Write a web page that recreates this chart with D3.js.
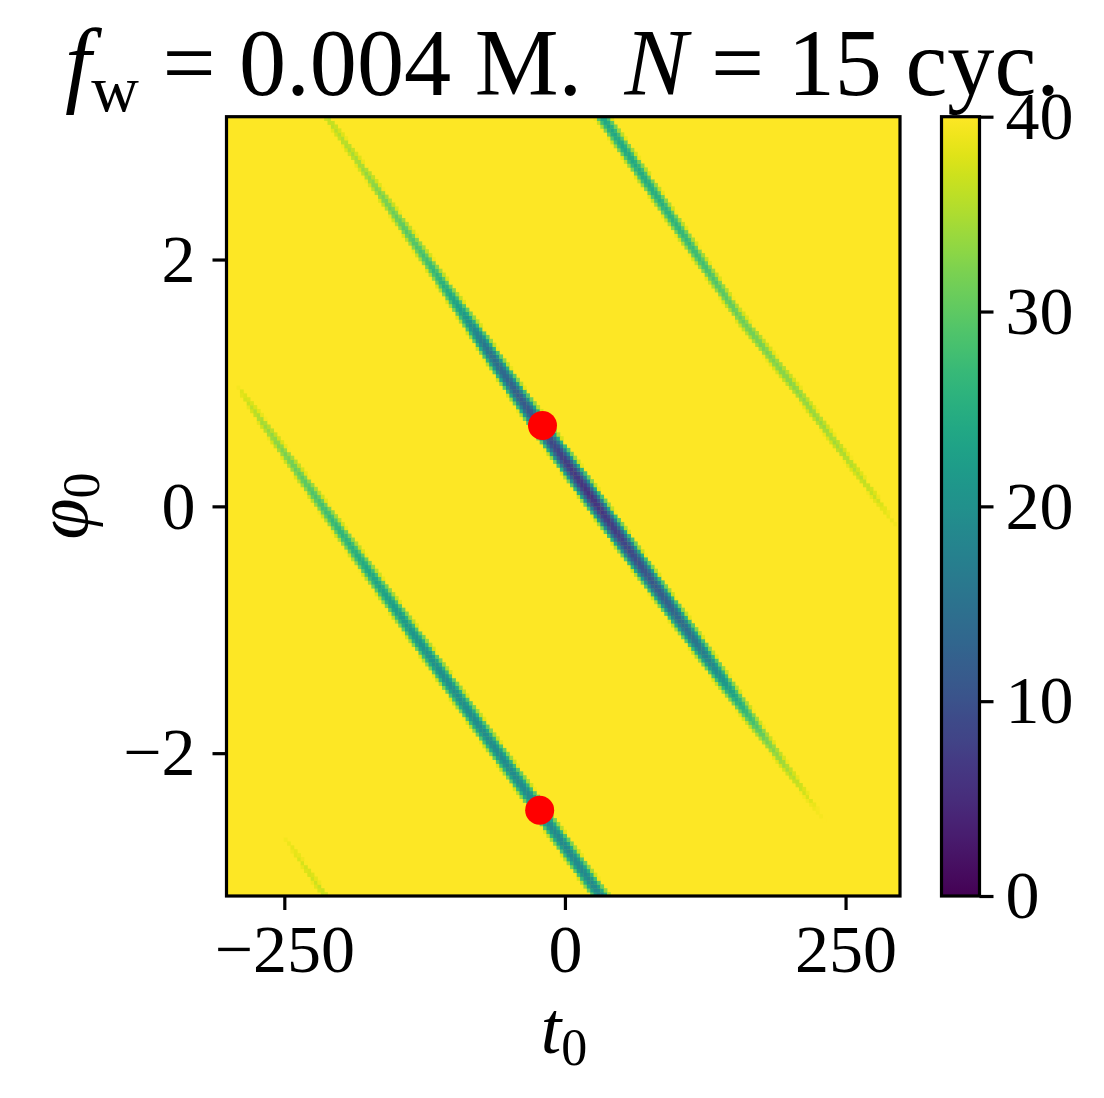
<!DOCTYPE html>
<html><head><meta charset="utf-8">
<script src="https://cdn.jsdelivr.net/npm/d3@7"></script>
<style>
body{margin:0;background:#fff;}
text{font-family:"Liberation Serif","DejaVu Serif",serif;fill:#000;}
</style>
</head><body>
<svg id="chart" width="1104" height="1098"></svg>
<script>
// ---------------- data ----------------
const tTicks = [-250, 0, 250];
const phiTicks = [-2, 0, 2];
const cbarTicks = [0, 10, 20, 30, 40];
const vMin = 0, vMax = 40;

// sampling grid of the map (cell centres)
const tFirst = -300, tLast = 297, nT = 200;
const phiFirst = -Math.PI, phiLast = Math.PI, nPhi = 200;

// band 1 : main (darkest) valley
const mainLineT   = [-240, -123.3, -34.4, 66.5, 235];
const mainLinePhi = [3.52, 1.997, 0.806, -0.465, -2.59];
const mainDepthT  = [-240, -210, -185, -155, -123, -93, -70, -37, -20, 0, 22, 45, 66, 96, 118, 140, 161, 182, 204, 222, 232];
const mainDepth   = [38, 36, 34.5, 31, 27.5, 22, 15, 11, 9.5, 7, 5.5, 7, 9.5, 12.5, 15.5, 20, 26, 32, 35.5, 38.5, 40];

// band 2 : lower-left valley
const lowLineT   = [-300, -156.1, 30.9, 45];
const lowLinePhi = [1.071, -0.763, -3.144, -3.324];
const lowDepthT  = [-292, -289, -271, -239, -206, -174, -140, -113, -70, -28, 14, 45];
const lowDepth   = [40, 38, 34.5, 30.5, 26.5, 23.5, 21, 19.5, 19, 18.5, 18.5, 18.5];

// band 3 : upper-right valley
const upLineT   = [25, 35.3, 155.6, 208.9, 293, 300];
const upLinePhi = [3.27, 3.133, 1.537, 0.915, -0.13, -0.217];
const upDepthT  = [25, 35, 70, 111, 152, 196, 242, 275, 295, 300];
const upDepth   = [23.5, 23.5, 24, 26.5, 30.5, 32.5, 34.5, 36.5, 39.5, 40];

// band 4 : faint valley in the lower-left corner
const cornerLineT   = [-260, -200];
const cornerLinePhi = [-2.549, -3.337];
const cornerDepthT  = [-252, -248, -235, -214, -200];
const cornerDepth   = [40, 39, 37.5, 36.5, 36.5];

const valleyCurvature = 1500;   // rise of the value away from a valley centre (per rad^2)

// red markers
const markerT   = [-20, -22.5];
const markerPhi = [0.655, -2.462];

// title pieces
const titleParts = [
  {s: "f", it: true}, {s: "w", sub: true}, {s: " = 0.004 M.", back: true},
  {s: "N", it: true, gap: 0.45}, {s: " = 15 cyc."}
];

// ---------------- layout ----------------
const svg = d3.select("#chart");
const P = {left: 226.5, right: 900, top: 116.7, bottom: 896};
const CB = {left: 941.5, right: 979.5};
const tickFont = 68, tickLen = 14, lineW = 3.2;

const tStep = (tLast - tFirst) / (nT - 1);
const phiStep = (phiLast - phiFirst) / (nPhi - 1);
const x = d3.scaleLinear().domain([tFirst - tStep / 2, tLast + tStep / 2]).range([P.left, P.right]);
const y = d3.scaleLinear().domain([phiFirst - phiStep / 2, phiLast + phiStep / 2]).range([P.bottom, P.top]);
const color = d3.scaleSequential(d3.interpolateViridis).domain([vMin, vMax]);

const bands = [
  [mainLineT, mainLinePhi, mainDepthT, mainDepth],
  [lowLineT, lowLinePhi, lowDepthT, lowDepth],
  [upLineT, upLinePhi, upDepthT, upDepth],
  [cornerLineT, cornerLinePhi, cornerDepthT, cornerDepth]
].map(([lt, lp, dt, dv]) => ({
  line: d3.scaleLinear().domain(lt).range(lp),
  depth: d3.scaleLinear().domain(dt).range(dv),
  lo: dt[0], hi: dt[dt.length - 1]
}));

function cellValue(t, p) {
  let v = vMax;
  for (const b of bands) {
    if (t < b.lo || t > b.hi) continue;
    const d = p - b.line(t);
    v = Math.min(v, b.depth(t) + valleyCurvature * d * d);
  }
  return Math.min(v, vMax);
}

const cells = [];
for (let i = 0; i < nT; i++) {
  const t = tFirst + i * tStep;
  for (let j = 0; j < nPhi; j++) {
    const p = phiFirst + j * phiStep;
    cells.push({t, p, v: cellValue(t, p)});
  }
}

// map
const gMap = svg.append("g");
gMap.append("rect").attr("x", P.left).attr("y", P.top)
  .attr("width", P.right - P.left).attr("height", P.bottom - P.top).attr("fill", color(vMax));
gMap.selectAll("rect.cell").data(cells.filter(c => c.v < vMax)).join("rect")
  .attr("class", "cell")
  .attr("x", d => x(d.t - tStep / 2))
  .attr("y", d => y(d.p + phiStep / 2))
  .attr("width", d => x(d.t + tStep / 2) - x(d.t - tStep / 2) + 0.4)
  .attr("height", d => y(d.p - phiStep / 2) - y(d.p + phiStep / 2) + 0.4)
  .attr("fill", d => color(d.v));

// markers
svg.append("g").selectAll("circle").data(markerT.map((t, i) => ({t, p: markerPhi[i]}))).join("circle")
  .attr("cx", d => x(d.t)).attr("cy", d => y(d.p)).attr("r", 14.5).attr("fill", "#ff0000");

// frame
svg.append("rect").attr("x", P.left).attr("y", P.top)
  .attr("width", P.right - P.left).attr("height", P.bottom - P.top)
  .attr("fill", "none").attr("stroke", "#000").attr("stroke-width", lineW);

function styleAxis(g) {
  g.select(".domain").remove();
  g.selectAll(".tick line").attr("stroke", "#000").attr("stroke-width", lineW);
  g.selectAll(".tick text").attr("font-size", tickFont).attr("font-family", null);
}
const intFmt = d3.format("d");

svg.append("g").attr("transform", `translate(0,${P.bottom})`)
  .call(d3.axisBottom(x).tickValues(tTicks).tickFormat(intFmt).tickSize(tickLen).tickPadding(14))
  .call(styleAxis);
svg.append("g").attr("transform", `translate(${P.left},0)`)
  .call(d3.axisLeft(y).tickValues(phiTicks).tickFormat(intFmt).tickSize(tickLen).tickPadding(17))
  .call(styleAxis);

// colorbar
const cy = d3.scaleLinear().domain([vMin, vMax]).range([P.bottom, P.top]);
const defs = svg.append("defs");
const grad = defs.append("linearGradient").attr("id", "cbgrad")
  .attr("x1", 0).attr("y1", 1).attr("x2", 0).attr("y2", 0);
grad.selectAll("stop").data(d3.range(0, 41).map(i => vMin + i * (vMax - vMin) / 40)).join("stop")
  .attr("offset", d => (d - vMin) / (vMax - vMin))
  .attr("stop-color", d => color(d));
svg.append("rect").attr("x", CB.left).attr("y", cy(vMax))
  .attr("width", CB.right - CB.left).attr("height", cy(vMin) - cy(vMax))
  .attr("fill", "url(#cbgrad)").attr("stroke", "#000").attr("stroke-width", lineW);
svg.append("g").attr("transform", `translate(${CB.right},0)`)
  .call(d3.axisRight(cy).tickValues(cbarTicks).tickFormat(intFmt).tickSize(tickLen).tickPadding(12))
  .call(styleAxis);

// axis labels
const xl = svg.append("text").attr("x", 564).attr("y", 1053).attr("text-anchor", "middle").attr("font-size", 74);
xl.append("tspan").attr("font-style", "italic").text("t");
xl.append("tspan").attr("font-size", 52).attr("dy", 12).text("0");

const yl = svg.append("text").attr("transform", "translate(87,506) rotate(-90)")
  .attr("text-anchor", "middle").attr("font-size", 74);
yl.append("tspan").attr("font-style", "italic").text("φ");
yl.append("tspan").attr("font-size", 52).attr("dy", 12).text("0");

// title
const titleLeft = 65, titleRight = 1060;
const title = svg.append("text").attr("x", titleLeft).attr("y", 95).attr("font-size", 90);
titleParts.forEach(part => {
  const ts = title.append("tspan").text(part.s);
  if (part.it) ts.attr("font-style", "italic");
  if (part.gap) ts.attr("dx", part.gap + "em");
  if (part.sub) ts.attr("font-size", "0.7em").attr("dy", 16);
  if (part.back) ts.attr("dy", -16);
});
const bb = title.node().getBBox();
const fs = 90 * (titleRight - titleLeft) / bb.width;
title.attr("font-size", fs);
const bb2 = title.node().getBBox();
title.attr("x", titleLeft - (bb2.x - titleLeft));
</script>
</body></html>
